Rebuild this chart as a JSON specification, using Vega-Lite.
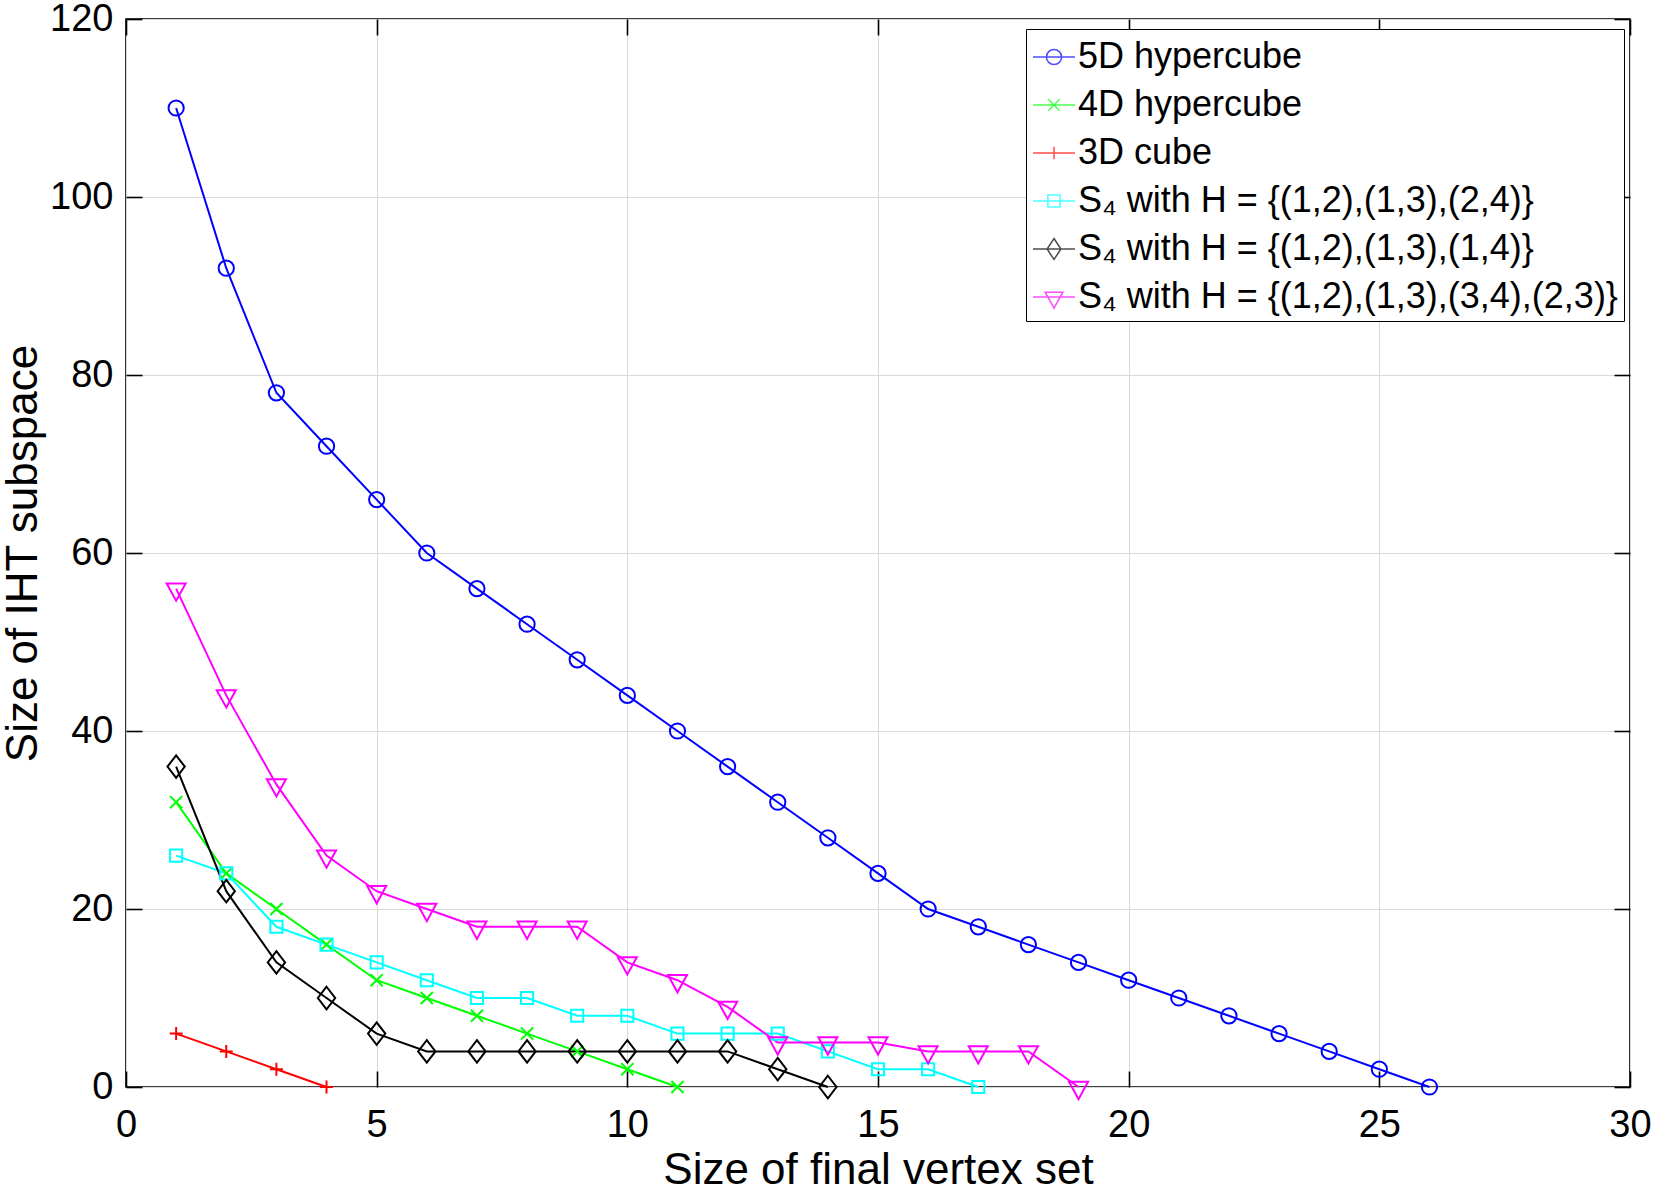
{
  "$schema": "https://vega.github.io/schema/vega-lite/v6.json",
  "width": 1504,
  "height": 1068,
  "autosize": "none",
  "padding": {"left": 126, "top": 19, "right": 26, "bottom": 102},
  "background": "white",
  "config": {
    "font": "Liberation Sans",
    "view": {"stroke": "black", "strokeWidth": 1.6},
    "axis": {
      "domain": false,
      "labelFont": "Liberation Sans",
      "labelFontSize": 38,
      "labelColor": "black",
      "titleFont": "Liberation Sans",
      "titleFontSize": 44,
      "titleFontWeight": "normal",
      "titleColor": "black",
      "tickColor": "black",
      "tickWidth": 1.6,
      "tickSize": -16,
      "gridColor": "#d9d9d9",
      "gridWidth": 1,
      "labelFlush": false,
      "labelOverlap": false
    },
    "legend": {
      "orient": "none",
      "legendX": 900,
      "legendY": 10,
      "symbolSize": 1764,
      "symbolStrokeWidth": 1.5,
      "labelFont": "Liberation Sans",
      "labelFontSize": 36,
      "labelColor": "black",
      "labelLimit": 0,
      "labelOffset": 2,
      "rowPadding": 8,
      "padding": 6,
      "fillColor": "white",
      "strokeColor": "black"
    }
  },
  "data": {
    "values": [
      {"series": "5D hypercube", "x": 1, "y": 110},
      {"series": "5D hypercube", "x": 2, "y": 92},
      {"series": "5D hypercube", "x": 3, "y": 78},
      {"series": "5D hypercube", "x": 4, "y": 72},
      {"series": "5D hypercube", "x": 5, "y": 66},
      {"series": "5D hypercube", "x": 6, "y": 60},
      {"series": "5D hypercube", "x": 7, "y": 56},
      {"series": "5D hypercube", "x": 8, "y": 52},
      {"series": "5D hypercube", "x": 9, "y": 48},
      {"series": "5D hypercube", "x": 10, "y": 44},
      {"series": "5D hypercube", "x": 11, "y": 40},
      {"series": "5D hypercube", "x": 12, "y": 36},
      {"series": "5D hypercube", "x": 13, "y": 32},
      {"series": "5D hypercube", "x": 14, "y": 28},
      {"series": "5D hypercube", "x": 15, "y": 24},
      {"series": "5D hypercube", "x": 16, "y": 20},
      {"series": "5D hypercube", "x": 17, "y": 18},
      {"series": "5D hypercube", "x": 18, "y": 16},
      {"series": "5D hypercube", "x": 19, "y": 14},
      {"series": "5D hypercube", "x": 20, "y": 12},
      {"series": "5D hypercube", "x": 21, "y": 10},
      {"series": "5D hypercube", "x": 22, "y": 8},
      {"series": "5D hypercube", "x": 23, "y": 6},
      {"series": "5D hypercube", "x": 24, "y": 4},
      {"series": "5D hypercube", "x": 25, "y": 2},
      {"series": "5D hypercube", "x": 26, "y": 0},
      {"series": "4D hypercube", "x": 1, "y": 32},
      {"series": "4D hypercube", "x": 2, "y": 24},
      {"series": "4D hypercube", "x": 3, "y": 20},
      {"series": "4D hypercube", "x": 4, "y": 16},
      {"series": "4D hypercube", "x": 5, "y": 12},
      {"series": "4D hypercube", "x": 6, "y": 10},
      {"series": "4D hypercube", "x": 7, "y": 8},
      {"series": "4D hypercube", "x": 8, "y": 6},
      {"series": "4D hypercube", "x": 9, "y": 4},
      {"series": "4D hypercube", "x": 10, "y": 2},
      {"series": "4D hypercube", "x": 11, "y": 0},
      {"series": "3D cube", "x": 1, "y": 6},
      {"series": "3D cube", "x": 2, "y": 4},
      {"series": "3D cube", "x": 3, "y": 2},
      {"series": "3D cube", "x": 4, "y": 0},
      {"series": "S₄ with H = {(1,2),(1,3),(2,4)}", "x": 1, "y": 26},
      {"series": "S₄ with H = {(1,2),(1,3),(2,4)}", "x": 2, "y": 24},
      {"series": "S₄ with H = {(1,2),(1,3),(2,4)}", "x": 3, "y": 18},
      {"series": "S₄ with H = {(1,2),(1,3),(2,4)}", "x": 4, "y": 16},
      {"series": "S₄ with H = {(1,2),(1,3),(2,4)}", "x": 5, "y": 14},
      {"series": "S₄ with H = {(1,2),(1,3),(2,4)}", "x": 6, "y": 12},
      {"series": "S₄ with H = {(1,2),(1,3),(2,4)}", "x": 7, "y": 10},
      {"series": "S₄ with H = {(1,2),(1,3),(2,4)}", "x": 8, "y": 10},
      {"series": "S₄ with H = {(1,2),(1,3),(2,4)}", "x": 9, "y": 8},
      {"series": "S₄ with H = {(1,2),(1,3),(2,4)}", "x": 10, "y": 8},
      {"series": "S₄ with H = {(1,2),(1,3),(2,4)}", "x": 11, "y": 6},
      {"series": "S₄ with H = {(1,2),(1,3),(2,4)}", "x": 12, "y": 6},
      {"series": "S₄ with H = {(1,2),(1,3),(2,4)}", "x": 13, "y": 6},
      {"series": "S₄ with H = {(1,2),(1,3),(2,4)}", "x": 14, "y": 4},
      {"series": "S₄ with H = {(1,2),(1,3),(2,4)}", "x": 15, "y": 2},
      {"series": "S₄ with H = {(1,2),(1,3),(2,4)}", "x": 16, "y": 2},
      {"series": "S₄ with H = {(1,2),(1,3),(2,4)}", "x": 17, "y": 0},
      {"series": "S₄ with H = {(1,2),(1,3),(1,4)}", "x": 1, "y": 36},
      {"series": "S₄ with H = {(1,2),(1,3),(1,4)}", "x": 2, "y": 22},
      {"series": "S₄ with H = {(1,2),(1,3),(1,4)}", "x": 3, "y": 14},
      {"series": "S₄ with H = {(1,2),(1,3),(1,4)}", "x": 4, "y": 10},
      {"series": "S₄ with H = {(1,2),(1,3),(1,4)}", "x": 5, "y": 6},
      {"series": "S₄ with H = {(1,2),(1,3),(1,4)}", "x": 6, "y": 4},
      {"series": "S₄ with H = {(1,2),(1,3),(1,4)}", "x": 7, "y": 4},
      {"series": "S₄ with H = {(1,2),(1,3),(1,4)}", "x": 8, "y": 4},
      {"series": "S₄ with H = {(1,2),(1,3),(1,4)}", "x": 9, "y": 4},
      {"series": "S₄ with H = {(1,2),(1,3),(1,4)}", "x": 10, "y": 4},
      {"series": "S₄ with H = {(1,2),(1,3),(1,4)}", "x": 11, "y": 4},
      {"series": "S₄ with H = {(1,2),(1,3),(1,4)}", "x": 12, "y": 4},
      {"series": "S₄ with H = {(1,2),(1,3),(1,4)}", "x": 13, "y": 2},
      {"series": "S₄ with H = {(1,2),(1,3),(1,4)}", "x": 14, "y": 0},
      {"series": "S₄ with H = {(1,2),(1,3),(3,4),(2,3)}", "x": 1, "y": 56},
      {"series": "S₄ with H = {(1,2),(1,3),(3,4),(2,3)}", "x": 2, "y": 44},
      {"series": "S₄ with H = {(1,2),(1,3),(3,4),(2,3)}", "x": 3, "y": 34},
      {"series": "S₄ with H = {(1,2),(1,3),(3,4),(2,3)}", "x": 4, "y": 26},
      {"series": "S₄ with H = {(1,2),(1,3),(3,4),(2,3)}", "x": 5, "y": 22},
      {"series": "S₄ with H = {(1,2),(1,3),(3,4),(2,3)}", "x": 6, "y": 20},
      {"series": "S₄ with H = {(1,2),(1,3),(3,4),(2,3)}", "x": 7, "y": 18},
      {"series": "S₄ with H = {(1,2),(1,3),(3,4),(2,3)}", "x": 8, "y": 18},
      {"series": "S₄ with H = {(1,2),(1,3),(3,4),(2,3)}", "x": 9, "y": 18},
      {"series": "S₄ with H = {(1,2),(1,3),(3,4),(2,3)}", "x": 10, "y": 14},
      {"series": "S₄ with H = {(1,2),(1,3),(3,4),(2,3)}", "x": 11, "y": 12},
      {"series": "S₄ with H = {(1,2),(1,3),(3,4),(2,3)}", "x": 12, "y": 9},
      {"series": "S₄ with H = {(1,2),(1,3),(3,4),(2,3)}", "x": 13, "y": 5},
      {"series": "S₄ with H = {(1,2),(1,3),(3,4),(2,3)}", "x": 14, "y": 5},
      {"series": "S₄ with H = {(1,2),(1,3),(3,4),(2,3)}", "x": 15, "y": 5},
      {"series": "S₄ with H = {(1,2),(1,3),(3,4),(2,3)}", "x": 16, "y": 4},
      {"series": "S₄ with H = {(1,2),(1,3),(3,4),(2,3)}", "x": 17, "y": 4},
      {"series": "S₄ with H = {(1,2),(1,3),(3,4),(2,3)}", "x": 18, "y": 4},
      {"series": "S₄ with H = {(1,2),(1,3),(3,4),(2,3)}", "x": 19, "y": 0}
    ]
  },
  "layer": [
    {
      "mark": {"type": "line", "strokeWidth": 2},
      "encoding": {
        "x": {
          "field": "x", "type": "quantitative",
          "scale": {"domain": [0, 30], "nice": false, "zero": false},
          "axis": {"orient": "bottom", "values": [0, 5, 10, 15, 20, 25, 30], "grid": true, "labelPadding": 35, "title": "Size of final vertex set", "titlePadding": 4}
        },
        "y": {
          "field": "y", "type": "quantitative",
          "scale": {"domain": [0, 120], "nice": false, "zero": false},
          "axis": {"orient": "left", "values": [0, 20, 40, 60, 80, 100, 120], "grid": true, "labelPadding": 29, "title": "Size of IHT subspace", "titlePadding": 4}
        },
        "color": {
          "field": "series", "type": "nominal", "legend": null,
          "scale": {
            "domain": ["5D hypercube", "4D hypercube", "3D cube", "S₄ with H = {(1,2),(1,3),(2,4)}", "S₄ with H = {(1,2),(1,3),(1,4)}", "S₄ with H = {(1,2),(1,3),(3,4),(2,3)}"],
            "range": ["#0000ff", "#00ff00", "#ff0000", "#00ffff", "#000000", "#ff00ff"]
          }
        }
      }
    },
    {
      "transform": [{"filter": {"field": "series", "equal": "5D hypercube"}}],
      "mark": {"type": "point", "shape": "M0.88,0A0.88,0.88 0 1,1 -0.88,0A0.88,0.88 0 1,1 0.88,0", "filled": false, "strokeWidth": 2, "size": 300, "opacity": 1},
      "encoding": {
        "x": {"field": "x", "type": "quantitative", "scale": {"domain": [0, 30], "nice": false, "zero": false}, "axis": null},
        "y": {"field": "y", "type": "quantitative", "scale": {"domain": [0, 120], "nice": false, "zero": false}, "axis": null},
        "color": {"field": "series", "type": "nominal", "legend": null}
      }
    },
    {
      "transform": [{"filter": {"field": "series", "equal": "4D hypercube"}}],
      "mark": {"type": "point", "shape": "M-0.7,-0.7L0.7,0.7M-0.7,0.7L0.7,-0.7", "filled": false, "strokeWidth": 2, "size": 300, "opacity": 1},
      "encoding": {
        "x": {"field": "x", "type": "quantitative", "scale": {"domain": [0, 30], "nice": false, "zero": false}, "axis": null},
        "y": {"field": "y", "type": "quantitative", "scale": {"domain": [0, 120], "nice": false, "zero": false}, "axis": null},
        "color": {"field": "series", "type": "nominal", "legend": null}
      }
    },
    {
      "transform": [{"filter": {"field": "series", "equal": "3D cube"}}],
      "mark": {"type": "point", "shape": "M-0.75,0H0.75M0,-0.75V0.75", "filled": false, "strokeWidth": 2, "size": 300, "opacity": 1},
      "encoding": {
        "x": {"field": "x", "type": "quantitative", "scale": {"domain": [0, 30], "nice": false, "zero": false}, "axis": null},
        "y": {"field": "y", "type": "quantitative", "scale": {"domain": [0, 120], "nice": false, "zero": false}, "axis": null},
        "color": {"field": "series", "type": "nominal", "legend": null}
      }
    },
    {
      "transform": [{"filter": {"field": "series", "equal": "S₄ with H = {(1,2),(1,3),(2,4)}"}}],
      "mark": {"type": "point", "shape": "M-0.7,-0.7H0.7V0.7H-0.7Z", "filled": false, "strokeWidth": 2, "size": 300, "opacity": 1},
      "encoding": {
        "x": {"field": "x", "type": "quantitative", "scale": {"domain": [0, 30], "nice": false, "zero": false}, "axis": null},
        "y": {"field": "y", "type": "quantitative", "scale": {"domain": [0, 120], "nice": false, "zero": false}, "axis": null},
        "color": {"field": "series", "type": "nominal", "legend": null}
      }
    },
    {
      "transform": [{"filter": {"field": "series", "equal": "S₄ with H = {(1,2),(1,3),(1,4)}"}}],
      "mark": {"type": "point", "shape": "M0,-1.3L1,0L0,1.3L-1,0Z", "filled": false, "strokeWidth": 2, "size": 300, "opacity": 1},
      "encoding": {
        "x": {"field": "x", "type": "quantitative", "scale": {"domain": [0, 30], "nice": false, "zero": false}, "axis": null},
        "y": {"field": "y", "type": "quantitative", "scale": {"domain": [0, 120], "nice": false, "zero": false}, "axis": null},
        "color": {"field": "series", "type": "nominal", "legend": null}
      }
    },
    {
      "transform": [{"filter": {"field": "series", "equal": "S₄ with H = {(1,2),(1,3),(3,4),(2,3)}"}}],
      "mark": {"type": "point", "shape": "M-1.1,-0.6H1.1L0,1.4Z", "filled": false, "strokeWidth": 2, "size": 300, "opacity": 1},
      "encoding": {
        "x": {"field": "x", "type": "quantitative", "scale": {"domain": [0, 30], "nice": false, "zero": false}, "axis": null},
        "y": {"field": "y", "type": "quantitative", "scale": {"domain": [0, 120], "nice": false, "zero": false}, "axis": null},
        "color": {"field": "series", "type": "nominal", "legend": null}
      }
    },
    {
      "transform": [{"filter": "false"}],
      "mark": {"type": "point", "filled": false, "strokeWidth": 1.5},
      "encoding": {
        "color": {
          "field": "series", "type": "nominal", "title": null,
          "scale": {
            "domain": ["5D hypercube", "4D hypercube", "3D cube", "S₄ with H = {(1,2),(1,3),(2,4)}", "S₄ with H = {(1,2),(1,3),(1,4)}", "S₄ with H = {(1,2),(1,3),(3,4),(2,3)}"],
            "range": ["#0000ff", "#00ff00", "#ff0000", "#00ffff", "#000000", "#ff00ff"]
          }
        },
        "shape": {
          "field": "series", "type": "nominal", "title": null,
          "scale": {
            "domain": ["5D hypercube", "4D hypercube", "3D cube", "S₄ with H = {(1,2),(1,3),(2,4)}", "S₄ with H = {(1,2),(1,3),(1,4)}", "S₄ with H = {(1,2),(1,3),(3,4),(2,3)}"],
            "range": [
              "M-1,0H1M0.36,0A0.36,0.36 0 1,1 -0.36,0A0.36,0.36 0 1,1 0.36,0",
              "M-1,0H1M-0.27,-0.27L0.27,0.27M-0.27,0.27L0.27,-0.27",
              "M-1,0H1M0,-0.3V0.3",
              "M-1,0H1M-0.29,-0.29H0.29V0.29H-0.29Z",
              "M-1,0H1M0,-0.5L0.33,0L0,0.5L-0.33,0Z",
              "M-1,0H1M-0.42,-0.23H0.42L0,0.53Z"
            ]
          }
        }
      }
    },
    {
      "mark": {"type": "point", "opacity": 0},
      "encoding": {
        "x": {"field": "x", "type": "quantitative", "scale": {"domain": [0, 30], "nice": false, "zero": false}, "axis": {"orient": "top", "values": [0, 5, 10, 15, 20, 25, 30], "labels": false, "grid": false, "title": null}},
        "y": {"field": "y", "type": "quantitative", "scale": {"domain": [0, 120], "nice": false, "zero": false}, "axis": {"orient": "right", "values": [0, 20, 40, 60, 80, 100, 120], "labels": false, "grid": false, "title": null}}
      }
    }
  ],
  "resolve": {
    "axis": {"x": "independent", "y": "independent"},
    "legend": {"color": "independent", "shape": "independent"}
  }
}
